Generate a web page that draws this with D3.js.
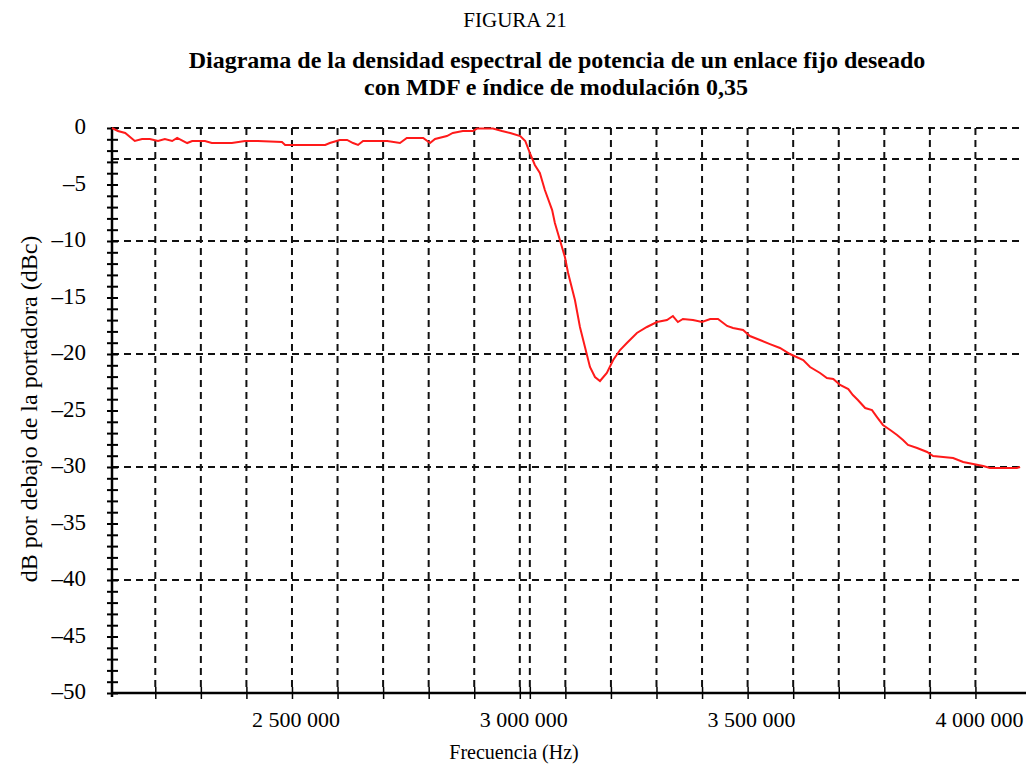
<!DOCTYPE html>
<html>
<head>
<meta charset="UTF-8">
<title>FIGURA 21</title>
<script src="https://d3js.org/d3.v7.min.js"></script>
<style>
  body { margin: 0; background: #fff; }
  svg text { font-family: "Liberation Serif", "Times New Roman", serif; fill: #000; }
</style>
</head>
<body>
<svg width="1031" height="768"></svg>
<script>
// spectrum trace
const freqHz = [
  2105000, 2118000, 2134000, 2155000, 2171000, 2188000, 2206000, 2221000, 2237000, 2248000,
  2270000, 2281000, 2309000, 2324000, 2368000, 2397000, 2425000, 2478000, 2485000, 2573000,
  2583000, 2605000, 2621000, 2634000, 2645000, 2656000, 2709000, 2737000, 2752000, 2788000,
  2803000, 2814000, 2840000, 2853000, 2875000, 2897000, 2906000, 2928000, 2941000, 2961000,
  2979000, 3001000, 3012000, 3022000, 3033000, 3044000, 3055000, 3071000, 3077000, 3088000,
  3099000, 3106000, 3121000, 3132000, 3143000, 3154000, 3165000, 3176000, 3191000, 3205000,
  3220000, 3235000, 3257000, 3279000, 3301000, 3323000, 3336000, 3347000, 3358000, 3380000,
  3400000, 3418000, 3435000, 3455000, 3468000, 3490000, 3505000, 3527000, 3549000, 3571000,
  3593000, 3622000, 3637000, 3659000, 3674000, 3688000, 3703000, 3721000, 3731000, 3742000,
  3758000, 3773000, 3784000, 3797000, 3813000, 3828000, 3841000, 3852000, 3872000, 3894000,
  3907000, 3929000, 3951000, 3973000, 3995000, 4017000, 4032000, 4091000, 4098000
];
const dBc = [
  0.0, -0.27, -0.44, -1.15, -0.97, -0.97, -1.15, -0.97, -1.15, -0.88,
  -1.33, -1.15, -1.15, -1.33, -1.33, -1.15, -1.15, -1.24, -1.5, -1.5,
  -1.33, -1.06, -1.06, -1.33, -1.5, -1.15, -1.15, -1.33, -0.88, -0.88,
  -1.33, -0.97, -0.71, -0.44, -0.27, -0.27, -0.05, -0.05, -0.05, -0.27,
  -0.44, -0.71, -1.15, -2.21, -3.27, -3.98, -5.49, -7.26, -8.41, -9.91,
  -11.42, -12.83, -15.22, -17.61, -19.38, -21.15, -22.04, -22.39, -21.68, -20.53,
  -19.65, -19.03, -18.14, -17.61, -17.17, -16.99, -16.64, -17.17, -16.9, -16.99,
  -17.17, -16.9, -16.9, -17.52, -17.7, -17.88, -18.41, -18.76, -19.12, -19.47,
  -20.0, -20.53, -21.15, -21.68, -22.12, -22.21, -22.74, -23.1, -23.63, -24.07,
  -24.78, -24.96, -25.58, -26.28, -26.73, -27.17, -27.61, -28.05, -28.32, -28.67,
  -29.03, -29.12, -29.2, -29.56, -29.73, -29.91, -30.09, -30.09, -30.0
];

const xTicks = [2500000, 3000000, 3500000, 4000000];
const yTicks = [0, -5, -10, -15, -20, -25, -30, -35, -40, -45, -50];
// dashed grid as drawn in the figure
const xGrid = [2200000, 2300000, 2400000, 2500000, 2600000, 2700000, 2800000, 2900000, 3000000, 3022000,
               3100000, 3200000, 3300000, 3400000, 3500000, 3600000, 3700000, 3800000, 3900000, 4000000];
const yGrid = [0, -2.75, -10, -20, -30, -40];

const svg = d3.select("svg");
const mLeft = 112, mRight = 1021, mTop = 128, mBottom = 693;

const x = d3.scaleLinear().domain([2105000, 4100000]).range([mLeft, mRight]);
const y = d3.scaleLinear().domain([0, -50]).range([mTop, mBottom]);

const fmtHz = d => d3.format(",")(d).replace(/,/g, " ");
const fmtDb = d => d === 0 ? "0" : "\u2013" + Math.abs(d);

// titles
svg.append("text").attr("x", 515).attr("y", 27).attr("text-anchor", "middle")
  .style("font-size", "21px").text("FIGURA 21");
svg.append("text").attr("x", 557).attr("y", 68).attr("text-anchor", "middle")
  .style("font-size", "24px").style("font-weight", "bold")
  .text("Diagrama de la densidad espectral de potencia de un enlace fijo deseado");
svg.append("text").attr("x", 556).attr("y", 95).attr("text-anchor", "middle")
  .style("font-size", "24px").style("font-weight", "bold")
  .text("con MDF e índice de modulación 0,35");

// grid
const grid = svg.append("g").attr("stroke", "#111").attr("stroke-width", 2)
  .attr("stroke-dasharray", "7,5");
grid.selectAll("line.gx").data(xGrid).join("line").attr("class", "gx")
  .attr("x1", d => x(d)).attr("x2", d => x(d)).attr("y1", mTop).attr("y2", mBottom);
grid.selectAll("line.gy").data(yGrid).join("line").attr("class", "gy")
  .attr("x1", mLeft).attr("x2", mRight).attr("y1", d => y(d)).attr("y2", d => y(d));

// axes
const yAxis = d3.axisLeft(y).tickValues(d3.range(0, -51, -1)).tickSize(0).tickFormat("");
const yg = svg.append("g").attr("transform", `translate(${mLeft},0)`).call(yAxis);
yg.select(".domain").remove();
yg.selectAll(".tick line").attr("x1", -5).attr("x2", 6).attr("stroke", "#000").attr("stroke-width", 2);
svg.append("line").attr("x1", mLeft).attr("x2", mLeft).attr("y1", mTop - 1).attr("y2", mBottom + 4)
  .attr("stroke", "#000").attr("stroke-width", 2.5);

const xAxis = d3.axisBottom(x).tickValues(xGrid).tickSize(0).tickFormat("");
const xg = svg.append("g").attr("transform", `translate(0,${mBottom})`).call(xAxis);
xg.select(".domain").remove();
xg.selectAll(".tick line").attr("y1", -6).attr("y2", 6).attr("stroke", "#000").attr("stroke-width", 1.5);
svg.append("line").attr("x1", mLeft).attr("x2", 1026).attr("y1", mBottom).attr("y2", mBottom)
  .attr("stroke", "#000").attr("stroke-width", 2.5);

// tick labels
svg.selectAll("text.xl").data(xTicks).join("text").attr("class", "xl")
  .attr("x", d => x(d) + 4).attr("y", mBottom + 34).attr("text-anchor", "middle")
  .style("font-size", "22px").text(fmtHz);
svg.selectAll("text.yl").data(yTicks).join("text").attr("class", "yl")
  .attr("x", 86).attr("y", d => y(d) + 6).attr("text-anchor", "end")
  .style("font-size", "23px").text(fmtDb);

// axis titles
svg.append("text").attr("x", 514).attr("y", 759).attr("text-anchor", "middle")
  .style("font-size", "20px").text("Frecuencia (Hz)");
svg.append("text").attr("transform", "translate(37,409) rotate(-90)").attr("text-anchor", "middle")
  .style("font-size", "24px").text("dB por debajo de la portadora (dBc)");

// trace
const pts = freqHz.map((f, i) => [f, dBc[i]]);
svg.append("path").datum(pts)
  .attr("fill", "none").attr("stroke", "#ff1a1a").attr("stroke-width", 2)
  .attr("d", d3.line().x(d => x(d[0])).y(d => y(d[1])));
</script>
</body>
</html>
